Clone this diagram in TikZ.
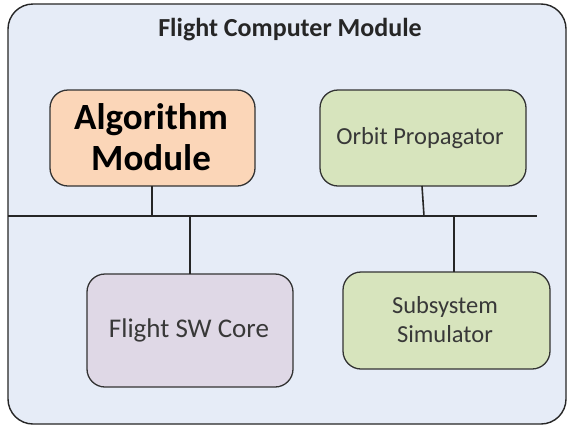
\documentclass[tikz,border=0pt]{standalone}
\usepackage{fontspec}
\setmainfont{Carlito}
\begin{document}
\begin{tikzpicture}[x=1pt,y=-1pt,
  frame/.style={draw=black!85,line width=1.4pt,rounded corners=25pt,fill=outerblue},
  block/.style={draw=black!80,line width=1.3pt,rounded corners=18pt,align=center,text=black!78,font=\fontsize{24.5}{29}\selectfont},
  wire/.style={draw=black!85,line width=1.6pt}]
\definecolor{outerblue}{HTML}{E6ECF7}
\definecolor{peach}{HTML}{FBD6B8}
\definecolor{sage}{HTML}{D7E4BD}
\definecolor{lilac}{HTML}{DFD8E6}
\useasboundingbox (0,0) rectangle (567,426);
\fill[white] (0,0) rectangle (567,426);
% outer module frame
\draw[frame] (8,4) rectangle (566,424);
\node[font=\bfseries\fontsize{26}{30}\selectfont,text=black!85] (title) at (290,30) {Flight Computer Module};
% inner blocks
\path[block,fill=peach] (50,90) rectangle (255,186);
\node[align=center,text=black,font=\bfseries\fontsize{37}{41}\selectfont] (alg) at (151,137) {Algorithm\\Module};
\path[block,fill=sage] (320,90) rectangle (526,186);
\node[block,draw=none] (orb) at (420,138) {Orbit Propagator};
\path[block,fill=lilac] (87,274) rectangle (293,387);
\node[block,draw=none,font=\fontsize{27}{31}\selectfont] (fsw) at (189,330) {Flight SW Core};
\path[block,fill=sage] (343,272) rectangle (550,369);
\node[block,draw=none] (sub) at (445,320) {Subsystem\\Simulator};
% shared bus and drops
\coordinate (busL) at (8,216);
\coordinate (busR) at (537,216);
\draw[wire] (busL) -- (busR);
\draw[wire] (152,186) -- (152,216);
\draw[wire] (422,186) -- (424,216);
\draw[wire] (190,216) -- (190,274);
\draw[wire] (454,216) -- (454,272);
\end{tikzpicture}
\end{document}
